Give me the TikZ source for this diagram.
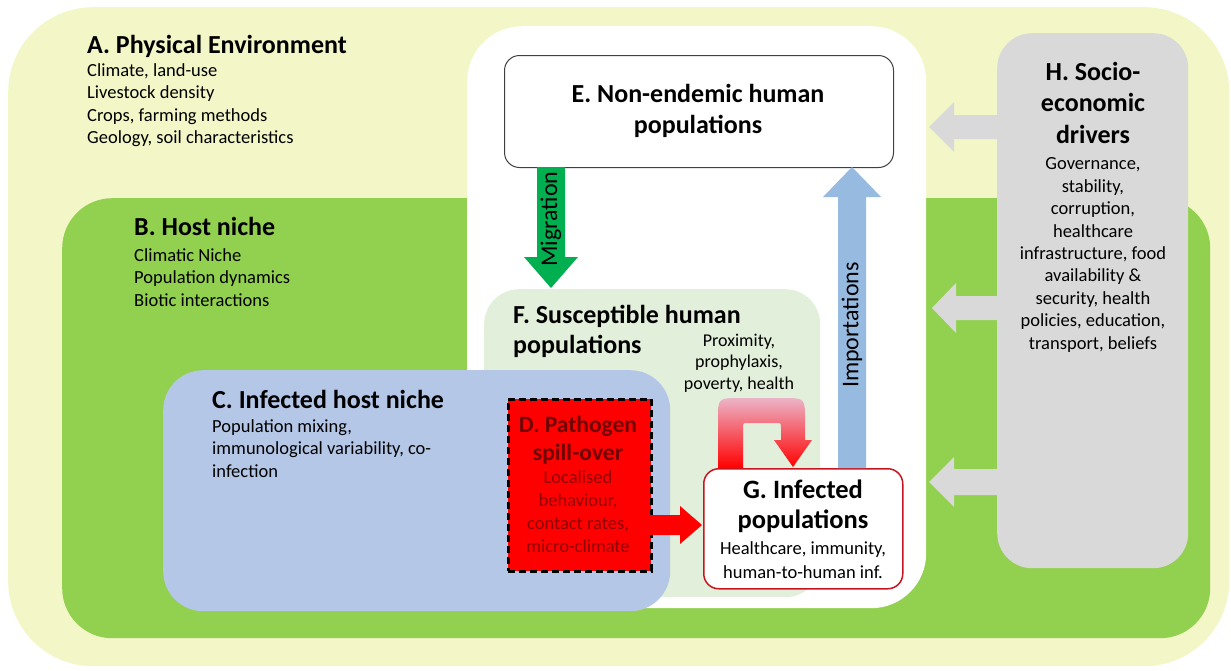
\documentclass[tikz,border=0pt]{standalone}
\usepackage{fontspec}
\setmainfont{Carlito}
\usetikzlibrary{calc}
\definecolor{envY}{RGB}{243,246,198}
\definecolor{hostG}{RGB}{146,208,80}
\definecolor{suscG}{RGB}{226,239,218}
\definecolor{infB}{RGB}{180,199,231}
\definecolor{socioG}{RGB}{217,217,217}
\definecolor{migG}{RGB}{0,176,80}
\definecolor{impB}{RGB}{150,186,224}
\definecolor{gBorder}{RGB}{200,20,30}
\definecolor{dHead}{RGB}{115,0,0}
\definecolor{dBody}{RGB}{145,0,0}
\definecolor{eBorder}{RGB}{64,64,64}
\definecolor{uTop}{RGB}{236,180,200}
\newcommand\vblock[7]{%
  \fill[#7] ({#1-#5},#2) -- ({#1-#5},#3) -- ({#1-#6},#3) -- (#1,#4) -- ({#1+#6},#3) -- ({#1+#5},#3) -- ({#1+#5},#2) -- cycle;}
\newcommand\hblock[7]{%
  \fill[#7] (#2,{#1-#5}) -- (#3,{#1-#5}) -- (#3,{#1-#6}) -- (#4,#1) -- (#3,{#1+#6}) -- (#3,{#1+#5}) -- (#2,{#1+#5}) -- cycle;}
\tikzset{
  box/.style={draw=none, inner sep=0pt, anchor=north west},
  head/.style={font=\fontsize{26}{31}\selectfont\bfseries, inner sep=0pt},
  body/.style={font=\fontsize{18.5}{22.5}\selectfont, inner sep=0pt},
}
\begin{document}
\begin{tikzpicture}[x=1pt,y=-1pt]
\useasboundingbox (0,0) rectangle (1231,670);
% containers
\node[box, fill=envY, rounded corners=85pt, minimum width=1221pt, minimum height=659pt] (A) at (8,7) {};
\node[box, fill=hostG, rounded corners=50pt, minimum width=1148pt, minimum height=440pt] (B) at (62,198) {};
\node[box, fill=white, rounded corners=55pt, minimum width=459pt, minimum height=582pt] (W) at (467,26) {};
\node[box, fill=socioG, rounded corners=35pt, minimum width=191pt, minimum height=535pt] (H) at (997,33) {};
\node[box, fill=white, draw=eBorder, line width=1pt, rounded corners=15pt, minimum width=389pt, minimum height=112pt] (E) at (504,55) {};
\node[box, fill=suscG, rounded corners=35pt, minimum width=336pt, minimum height=308pt] (F) at (484,289) {};
\node[box, fill=infB, rounded corners=40pt, minimum width=507pt, minimum height=241pt] (C) at (163,370) {};
\node[box, fill=red, draw=black, line width=2.5pt, dash pattern=on 7pt off 4pt, minimum width=143pt, minimum height=172pt] (D) at (507,398) {};
\node[box, fill=white, draw=gBorder, line width=1.5pt, rounded corners=15pt, minimum width=199pt, minimum height=120pt] (G) at (703,468) {};

% arrows
\vblock{551}{167}{257}{288}{14}{27}{migG}   % E -> F (migration)
\vblock{852}{468}{197}{167}{14}{29}{impB}   % G -> E (importations)
\hblock{525}{650}{680}{702}{10}{19}{red}    % D -> G
\hblock{127}{997}{954}{929}{12}{25}{socioG} % H -> E
\hblock{308}{997}{956}{932}{12}{25}{socioG} % H -> F
\hblock{482}{997}{954}{929}{13}{25}{socioG} % H -> G
% U-turn arrow on G
\shade[top color=uTop, middle color=red, bottom color=red]
  (718,468) -- (718,420) .. controls (718,398) .. (740,398) -- (783,398)
  .. controls (805,398) .. (805,420) -- (805,440) -- (812,440) -- (793,467)
  -- (774,440) -- (781,440) -- (781,428) .. controls (781,423) .. (776,423)
  -- (748,423) .. controls (743,423) .. (743,428) -- (743,468) -- cycle;

\node[rotate=90, font=\fontsize{24}{28}\selectfont, inner sep=0pt] (migT) at (551,219) {Migration};
\node[rotate=90, font=\fontsize{24}{28}\selectfont, inner sep=0pt] (impT) at (852,325) {Importations};

% texts (base anchor = baseline of the last line)
\node[head, anchor=base west] (Ah) at (87,53) {A. Physical Environment};
\node[body, anchor=base west, align=left] (Ab) at (87,143.5) {Climate, land-use\\Livestock density\\Crops, farming methods\\Geology, soil characteristics};
\node[head, anchor=base west] (Bh) at (134,235) {B. Host niche};
\node[body, anchor=base west, align=left] (Bb) at (134,306) {Climatic Niche\\Population dynamics\\Biotic interactions};
\node[head, anchor=base west] (Ch) at (212,408) {C. Infected host niche};
\node[body, anchor=base west, align=left] (Cb) at (212,477) {Population mixing,\\immunological variability, co-\\infection};
\node[font=\fontsize{23.5}{28}\selectfont\bfseries, inner sep=0pt, anchor=base, align=center, text=dHead] (Dh) at (578,460) {D. Pathogen\\spill-over};
\node[font=\fontsize{18.5}{22.7}\selectfont, inner sep=0pt, anchor=base, align=center, text=dBody] (Db) at (578,552) {Localised\\behaviour,\\contact rates,\\micro-climate};
\node[head, anchor=base, align=center] (Eh) at (698,133) {E. Non-endemic human\\populations};
\node[head, anchor=base west, align=left, font=\fontsize{26}{30}\selectfont\bfseries] (Fh) at (513,353) {F. Susceptible human\\populations};
\node[body, anchor=base, align=center, font=\fontsize{18}{21.8}\selectfont] (Fb) at (739,389.6) {Proximity,\\prophylaxis,\\poverty, health};
\node[head, anchor=base, align=center, font=\fontsize{26.5}{30}\selectfont\bfseries] (Gh) at (803,528) {G. Infected\\populations};
\node[body, anchor=base, align=center, font=\fontsize{18.5}{24}\selectfont] (Gb) at (803,578) {Healthcare, immunity,\\human-to-human inf.};
\node[head, anchor=base, align=center, font=\fontsize{26}{31.5}\selectfont\bfseries] (Hh) at (1093,143) {H. Socio-\\economic\\drivers};
\node[body, anchor=base, align=center, font=\fontsize{18.5}{22.4}\selectfont] (Hb) at (1093,349) {Governance,\\stability,\\corruption,\\healthcare\\infrastructure, food\\availability \&\\security, health\\policies, education,\\transport, beliefs};
\end{tikzpicture}
\end{document}
